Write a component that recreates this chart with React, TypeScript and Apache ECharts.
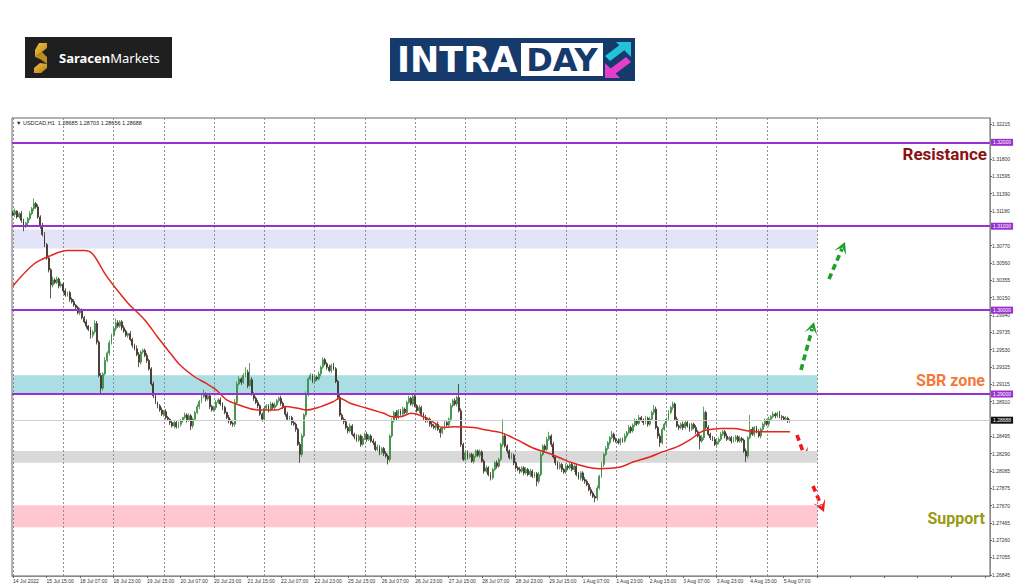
import React, { useEffect, useRef } from "react";
import * as echarts from "echarts";

// ---------- DATA ----------
const BASE = 1.27; // prices below are pips above this base

const tickLabels = [
  "14 Jul 2022", "15 Jul 15:00", "18 Jul 07:00", "18 Jul 23:00", "19 Jul 15:00", "20 Jul 07:00",
  "20 Jul 23:00", "21 Jul 15:00", "22 Jul 07:00", "22 Jul 23:00", "25 Jul 15:00", "26 Jul 07:00",
  "26 Jul 23:00", "27 Jul 15:00", "28 Jul 07:00", "28 Jul 23:00", "29 Jul 15:00", "1 Aug 07:00",
  "1 Aug 23:00", "2 Aug 15:00", "3 Aug 07:00", "3 Aug 23:00", "4 Aug 15:00", "5 Aug 07:00",
];

const priceTicks = [
  1.26845, 1.27055, 1.2726, 1.27465, 1.2767, 1.27875, 1.28085, 1.2829, 1.28495, 1.2891,
  1.29115, 1.29325, 1.2953, 1.29735, 1.2994, 1.3015, 1.30355, 1.3056, 1.3077, 1.3118,
  1.3139, 1.31595, 1.318, 1.32215,
];

const levelLines = [1.32, 1.31, 1.3, 1.29];
const bidPrice = 1.28688;

const lavenderZone = [1.30736, 1.3096];
const sbrZone = [1.29, 1.29225];
const grayZone = [1.2818, 1.2832];
const pinkZone = [1.27412, 1.27673];

const firstOpen = 416;
const closePips = [
  414, 418, 411, 415, 407, 400, 404, 409, 415, 421, 427, 423, 411, 400, 390, 378, 362, 348, 330, 336, 333, 337, 329, 331,
  323, 318, 321, 313, 310, 306, 303, 297, 300, 291, 286, 281, 277, 270, 274, 284, 262, 222, 207, 224, 240, 249, 261, 270,
  278, 285, 281, 286, 279, 275, 270, 272, 265, 258, 254, 247, 238, 250, 252, 246, 240, 230, 212, 198, 190, 186, 181, 176,
  179, 172, 170, 166, 162, 166, 161, 164, 168, 172, 175, 169, 174, 162, 170, 178, 185, 191, 197, 199, 194, 198, 185, 181,
  184, 190, 193, 188, 184, 178, 172, 168, 165, 164, 190, 212, 218, 214, 222, 226, 210, 217, 200, 195, 190, 186, 176, 170,
  183, 186, 181, 188, 184, 187, 192, 195, 189, 184, 176, 170, 172, 166, 164, 158, 140, 128, 150, 175, 200, 218, 222, 215,
  220, 218, 224, 232, 241, 236, 232, 228, 234, 230, 215, 196, 175, 170, 167, 160, 156, 162, 152, 149, 145, 150, 140, 147,
  152, 146, 150, 144, 142, 134, 137, 130, 135, 129, 126, 122, 150, 168, 178, 172, 180, 176, 182, 178, 190, 195, 188, 197,
  186, 180, 184, 176, 172, 168, 170, 164, 162, 160, 164, 158, 154, 160, 166, 163, 170, 186, 192, 188, 196, 180, 140, 122,
  130, 125, 128, 120, 126, 132, 127, 131, 120, 108, 112, 104, 100, 110, 118, 114, 122, 140, 150, 138, 132, 124, 127, 118,
  112, 110, 108, 112, 106, 110, 104, 108, 102, 105, 96, 104, 128, 138, 134, 146, 150, 140, 125, 118, 112, 116, 110, 107,
  114, 112, 116, 110, 114, 104, 100, 106, 98, 96, 92, 86, 82, 78, 76, 88, 102, 116, 128, 135, 142, 148, 152, 146,
  144, 142, 146, 144, 150, 154, 160, 156, 163, 168, 165, 172, 169, 166, 171, 164, 170, 178, 182, 160, 150, 142, 158, 164,
  170, 178, 184, 188, 170, 162, 160, 164, 160, 166, 162, 158, 164, 160, 155, 150, 144, 148, 178, 160, 152, 148, 146, 140,
  143, 146, 152, 155, 150, 146, 148, 144, 146, 149, 144, 147, 145, 132, 126, 148, 158, 152, 160, 155, 150, 158, 164, 168,
  164, 170, 173, 176, 174, 177, 173, 172, 170, 171, 168.5, 168.8,
];

const upperWick = [
  2, 3, 1, 2, 3, 2, 1, 2, 3, 2, 6, 2, 3, 2, 4, 3, 2, 3, 2, 4, 2, 3, 2, 3,
  2, 3, 1, 2, 2, 3, 1, 2, 3, 2, 2, 3, 1, 3, 2, 4, 3, 2, 3, 2, 4, 2, 3, 2,
  2, 5, 3, 2, 2, 3, 2, 1, 3, 2, 2, 4, 3, 2, 2, 2, 3, 2, 2, 3, 2, 1, 2, 3,
  2, 3, 2, 1, 3, 2, 2, 3, 2, 1, 3, 2, 3, 2, 2, 2, 3, 2, 3, 6, 3, 2, 3, 2,
  2, 3, 2, 3, 2, 2, 1, 3, 2, 2, 4, 3, 3, 2, 3, 6, 3, 20, 3, 2, 2, 3, 2, 2,
  3, 2, 2, 3, 2, 3, 2, 2, 3, 2, 2, 3, 2, 2, 3, 2, 2, 3, 3, 2, 3, 2, 3, 2,
  2, 2, 3, 2, 3, 2, 2, 3, 2, 3, 2, 2, 3, 2, 2, 3, 2, 3, 2, 2, 3, 2, 2, 3,
  2, 3, 2, 2, 3, 2, 3, 2, 2, 2, 3, 2, 2, 3, 2, 3, 2, 2, 3, 2, 2, 3, 2, 3,
  2, 2, 3, 2, 2, 3, 2, 2, 3, 2, 2, 3, 2, 2, 3, 2, 2, 3, 2, 3, 2, 16, 3, 2,
  2, 3, 2, 2, 3, 2, 2, 3, 2, 2, 3, 2, 3, 2, 2, 3, 2, 2, 20, 3, 2, 2, 3, 2,
  2, 2, 3, 2, 2, 3, 2, 3, 2, 2, 2, 3, 3, 2, 2, 3, 5, 2, 3, 2, 2, 3, 2, 2,
  3, 2, 2, 3, 2, 2, 3, 2, 2, 3, 2, 2, 3, 2, 2, 3, 2, 3, 2, 3, 2, 2, 4, 2,
  2, 3, 2, 2, 3, 2, 3, 2, 2, 3, 2, 3, 2, 2, 3, 2, 3, 2, 5, 3, 2, 3, 2, 2,
  2, 3, 2, 3, 2, 3, 2, 2, 3, 2, 2, 3, 2, 2, 3, 2, 2, 3, 7, 2, 3, 2, 2, 3,
  2, 2, 3, 2, 2, 3, 2, 2, 3, 2, 2, 3, 2, 2, 3, 2, 17, 3, 2, 2, 3, 2, 2, 3,
  2, 3, 2, 3, 2, 2, 3, 2, 2, 3, 2, 1.5,
];

const lowerWick = [
  2, 3, 2, 2, 3, 6, 2, 3, 2, 2, 3, 2, 2, 3, 2, 3, 2, 3, 16, 3, 2, 2, 3, 2,
  3, 2, 2, 3, 2, 2, 3, 2, 3, 2, 2, 3, 2, 4, 3, 2, 3, 2, 7, 3, 2, 2, 3, 2,
  2, 3, 2, 2, 3, 2, 2, 3, 2, 3, 2, 2, 6, 3, 2, 2, 3, 2, 2, 3, 2, 3, 2, 2,
  3, 2, 2, 3, 2, 3, 2, 2, 3, 2, 2, 3, 2, 5, 3, 2, 2, 3, 2, 2, 3, 2, 3, 2,
  2, 3, 2, 2, 3, 2, 2, 3, 2, 3, 3, 2, 2, 3, 2, 2, 3, 2, 2, 3, 2, 3, 2, 3,
  2, 2, 3, 2, 2, 3, 2, 2, 3, 2, 3, 2, 2, 3, 2, 3, 2, 10, 3, 2, 2, 3, 2, 2,
  3, 2, 2, 3, 2, 2, 3, 2, 3, 2, 2, 3, 2, 2, 3, 2, 3, 2, 2, 3, 2, 2, 3, 2,
  2, 3, 2, 2, 3, 2, 2, 3, 2, 3, 2, 6, 3, 2, 2, 3, 2, 2, 3, 2, 3, 2, 2, 3,
  2, 2, 3, 2, 3, 2, 2, 3, 2, 2, 3, 2, 6, 2, 3, 2, 2, 3, 2, 2, 3, 2, 3, 2,
  2, 3, 2, 2, 3, 2, 2, 3, 2, 3, 2, 2, 3, 2, 2, 3, 2, 2, 3, 2, 3, 2, 2, 3,
  2, 2, 3, 2, 3, 2, 2, 3, 2, 2, 6, 3, 2, 2, 3, 2, 2, 3, 2, 3, 2, 2, 3, 2,
  2, 3, 2, 2, 3, 2, 2, 3, 2, 3, 2, 2, 3, 2, 5, 3, 2, 2, 3, 2, 2, 3, 2, 3,
  2, 2, 3, 2, 2, 3, 2, 3, 2, 2, 3, 2, 2, 3, 2, 3, 2, 2, 3, 2, 3, 5, 2, 2,
  3, 2, 2, 3, 2, 2, 3, 2, 3, 2, 2, 3, 2, 2, 3, 2, 10, 2, 3, 2, 2, 3, 2, 2,
  2, 3, 2, 2, 3, 2, 2, 3, 2, 3, 2, 2, 3, 2, 7, 3, 2, 2, 3, 2, 2, 3, 2, 3,
  2, 3, 2, 2, 3, 2, 2, 3, 2, 2, 3, 2.9,
];

// moving average: [bar index, pips above base]
const maPoints: [number, number][] = [
  [0, 329], [10, 355], [18, 365], [26, 371], [34, 371], [38, 367], [44, 343], [50, 323], [55, 308],
  [63, 288], [69, 268], [75, 249], [80, 234], [87, 220], [92, 213], [97, 205], [102, 193], [108, 187],
  [117, 181], [126, 181], [130, 185], [136, 183], [140, 181], [147, 185], [153, 191], [156, 195],
  [161, 189], [169, 183], [177, 177], [181, 173], [185, 173], [190, 177], [194, 175], [201, 166],
  [205, 160], [210, 161], [220, 160], [226, 157], [233, 154], [241, 145], [248, 136], [255, 130],
  [261, 124], [267, 118], [274, 113], [280, 111], [290, 113], [296, 119], [304, 125], [310, 131],
  [317, 137], [323, 145], [328, 154], [331, 157], [338, 159], [344, 159], [351, 156], [357, 155],
  [363, 155], [371, 155],
];

const SLOTS = 467; // bar slots on the time axis, incl. empty shift area
const GRID_STEP = 24; // bars between dotted vertical grid lines
const ZONE_END = 384; // bar index where zones / grid end

// ---------- HELPERS ----------
const toPrice = (v: number) => +(BASE + v / 10000).toFixed(5);

function buildCandles() {
  const out: number[][] = [];
  let open = firstOpen;
  for (let i = 0; i < closePips.length; i++) {
    const c = closePips[i];
    const hi = Math.max(open, c) + upperWick[i];
    const lo = Math.min(open, c) - lowerWick[i];
    out.push([toPrice(open), toPrice(c), toPrice(lo), toPrice(hi)]);
    open = c;
  }
  return out;
}

function arrow(x1: number, y1: number, x2: number, y2: number, color: string) {
  const dx = x2 - x1, dy = y2 - y1;
  const len = Math.hypot(dx, dy);
  const ux = dx / len, uy = dy / len;
  const nx = -uy, ny = ux;
  const L = 12, W = 6.5;
  const bx = x2 - ux * L, by = y2 - uy * L;
  return [
    {
      type: "polyline",
      shape: { points: [[x1, y1], [x2 - ux * L * 0.6, y2 - uy * L * 0.6]] },
      style: { stroke: color, lineWidth: 3.6, lineDash: [6, 4], fill: null },
      silent: true,
    },
    {
      type: "polygon",
      shape: {
        points: [
          [x2, y2],
          [bx + nx * W, by + ny * W],
          [x2 - ux * L * 0.5, y2 - uy * L * 0.5],
          [bx - nx * W, by - ny * W],
        ],
      },
      style: { fill: color },
      silent: true,
    },
  ];
}

function buildOption() {
  const categories = Array.from({ length: SLOTS }, (_, i) => String(i));
  const candles = buildCandles();
  const ma = maPoints.map(([i, v]) => [i, toPrice(v)]);
  const gridIdx: number[] = [];
  for (let i = 0; i <= ZONE_END; i += GRID_STEP) gridIdx.push(i);

  const zone = (z: number[], color: string) => [
    { xAxis: "0", yAxis: z[0], itemStyle: { color } },
    { xAxis: String(ZONE_END), yAxis: z[1] },
  ];

  const purple = "#9b30d0";
  const smallFont = "Liberation Sans";

  const gold = new echarts.graphic.LinearGradient(0, 0, 1, 1, [
    { offset: 0, color: "#f2c54a" },
    { offset: 1, color: "#b27d12" },
  ]);

  return {
    animation: false,
    backgroundColor: "#ffffff",
    grid: {
      left: 12, right: 34, top: 118, bottom: 11,
      show: true, borderColor: "#666", borderWidth: 1, backgroundColor: "transparent",
    },
    xAxis: {
      type: "category",
      data: categories,
      boundaryGap: true,
      axisLine: { show: true, lineStyle: { color: "#888", width: 1 } },
      axisTick: { show: true, interval: 15, alignWithLabel: true, length: 2, lineStyle: { color: "#666" } },
      axisLabel: {
        interval: 15,
        formatter: (_v: string, i: number) => (i % 16 === 0 && tickLabels[i / 16]) || "",
        fontSize: 5,
        color: "#333",
        align: "left",
        margin: 2,
        fontFamily: smallFont,
      },
      splitLine: { show: false },
    },
    yAxis: {
      type: "value",
      position: "right",
      min: 1.26831,
      max: 1.3229,
      axisLine: { show: true, onZero: false, lineStyle: { color: "#888" } },
      axisTick: { show: true, customValues: priceTicks, length: 2, lineStyle: { color: "#666" } },
      axisLabel: {
        customValues: priceTicks,
        formatter: (v: number) => v.toFixed(5),
        fontSize: 5,
        color: "#333",
        margin: 2,
        fontFamily: smallFont,
      },
      splitLine: { show: false },
    },
    series: [
      {
        type: "line",
        data: [],
        silent: true,
        markLine: {
          z: 1,
          silent: true,
          symbol: ["none", "none"],
          label: { show: false },
          lineStyle: { color: "#8f8f8f", type: [2, 2], width: 1 },
          data: gridIdx.map((i) => ({ xAxis: String(i) })),
        },
      },
      {
        type: "candlestick",
        data: candles,
        barWidth: 1.4,
        silent: true,
        itemStyle: {
          color: "#2c8a37",
          color0: "#35261f",
          borderColor: "#3a8c42",
          borderColor0: "#3a2c26",
          borderWidth: 0.8,
        },
        markArea: {
          silent: true,
          data: [
            zone(lavenderZone, "#e4e4f8"),
            zone(sbrZone, "#aadde4"),
            zone(grayZone, "#d9d9d9"),
            zone(pinkZone, "#ffc6d0"),
          ],
        },
        markLine: {
          silent: true,
          symbol: ["none", "none"],
          precision: 5,
          data: [
            ...levelLines.map((v) => ({
              yAxis: v,
              lineStyle: { color: purple, width: 2, type: "solid" },
              label: {
                show: true,
                position: "end",
                distance: 1,
                formatter: (p: any) => Number(p.value).toFixed(5),
                backgroundColor: purple,
                color: "#ffffff",
                fontSize: 5,
                padding: [1, 2],
                fontFamily: smallFont,
              },
            })),
            {
              yAxis: bidPrice,
              lineStyle: { color: "#cfcfcf", width: 1, type: "solid" },
              label: {
                show: true,
                position: "end",
                distance: 1,
                formatter: (p: any) => Number(p.value).toFixed(5),
                backgroundColor: "#111111",
                color: "#ffffff",
                fontSize: 5,
                padding: [1, 2],
                fontFamily: smallFont,
              },
            },
          ],
        },
      },
      {
        type: "line",
        data: ma,
        smooth: 0.35,
        symbol: "none",
        silent: true,
        lineStyle: { color: "#e3261e", width: 1.5 },
        z: 3,
      },
    ],
    graphic: [
      // chart header
      {
        type: "text",
        x: 16, y: 120,
        style: {
          text: "▼ USDCAD,H1  1.28685 1.28703 1.28656 1.28688",
          fontSize: 5.5, fill: "#222", fontFamily: smallFont,
        },
        silent: true,
      },
      // Saracen Markets logo
      { type: "rect", shape: { x: 25, y: 37, width: 147, height: 41 }, style: { fill: "#1f1f1f" }, silent: true },
      { type: "polygon", shape: { points: [[39, 43], [47, 43], [47, 48], [42, 52], [35, 57], [35, 50]] }, style: { fill: gold }, silent: true },
      { type: "polygon", shape: { points: [[35, 57], [42, 52], [47, 57], [47, 64], [40, 59]] }, style: { fill: "#c08a1c" }, silent: true },
      { type: "polygon", shape: { points: [[47, 64], [47, 68], [41, 73], [34, 73], [34, 68], [40, 63]] }, style: { fill: gold }, silent: true },
      {
        type: "text",
        x: 59, y: 58,
        style: {
          text: "{b|Saracen}{r|Markets}",
          verticalAlign: "middle",
          rich: {
            b: { fontSize: 13, fontWeight: "bold", fill: "#ffffff", fontFamily: "Noto Sans" },
            r: { fontSize: 13, fontWeight: "normal", fill: "#ffffff", fontFamily: "Noto Sans" },
          },
        },
        silent: true,
      },
      // INTRADAY logo
      { type: "rect", shape: { x: 390, y: 38, width: 245, height: 43 }, style: { fill: "#163a6c" }, silent: true },
      { type: "rect", shape: { x: 521, y: 43, width: 82, height: 33 }, style: { fill: "#ffffff" }, silent: true },
      {
        type: "text",
        x: 397, y: 60,
        style: {
          text: "INTRA", fontSize: 35, fontWeight: "bold", fill: "#ffffff",
          fontFamily: "DejaVu Sans", verticalAlign: "middle",
        },
        silent: true,
      },
      {
        type: "text",
        x: 562, y: 60,
        style: {
          text: "DAY", fontSize: 32, fontWeight: "bold", fill: "#163a6c",
          fontFamily: "DejaVu Sans", verticalAlign: "middle", align: "center",
        },
        silent: true,
      },
      { type: "polygon", shape: { points: [[631, 42], [631, 57], [616, 42]] }, style: { fill: "#22c4d8" }, silent: true },
      { type: "polygon", shape: { points: [[605, 56], [610, 61], [626, 49], [621, 44]] }, style: { fill: "#22c4d8" }, silent: true },
      { type: "polygon", shape: { points: [[605, 78], [605, 63], [620, 78]] }, style: { fill: "#e63dcc" }, silent: true },
      { type: "polygon", shape: { points: [[631, 62], [626, 57], [610, 69], [615, 74]] }, style: { fill: "#e63dcc" }, silent: true },
      // annotation labels
      {
        type: "text", x: 987, y: 154,
        style: { text: "Resistance", fontSize: 17, fontWeight: "bold", fill: "#8b1212", fontFamily: "Roboto", align: "right", verticalAlign: "middle" },
        silent: true,
      },
      {
        type: "text", x: 985, y: 380,
        style: { text: "SBR zone", fontSize: 16, fontWeight: "bold", fill: "#f47a3a", fontFamily: "Roboto", align: "right", verticalAlign: "middle" },
        silent: true,
      },
      {
        type: "text", x: 985, y: 518,
        style: { text: "Support", fontSize: 16, fontWeight: "bold", fill: "#9a9a14", fontFamily: "Roboto", align: "right", verticalAlign: "middle" },
        silent: true,
      },
      // arrows
      ...arrow(801, 370, 814, 322, "#1f9e2a"),
      ...arrow(829, 279, 845, 242, "#1f9e2a"),
      ...arrow(797, 435, 806, 460, "#f01818"),
      ...arrow(813, 486, 824, 512, "#f01818"),
    ],
  };
}

export default function App() {
  const ref = useRef<HTMLDivElement>(null);
  useEffect(() => {
    if (!ref.current) return;
    const chart = echarts.init(ref.current, null, { renderer: "svg" });
    chart.setOption(buildOption() as any);
    return () => chart.dispose();
  }, []);
  return (
    <div
      ref={ref}
      style={{ position: "fixed", left: 0, top: 0, width: 1024, height: 587, background: "#ffffff" }}
    />
  );
}
